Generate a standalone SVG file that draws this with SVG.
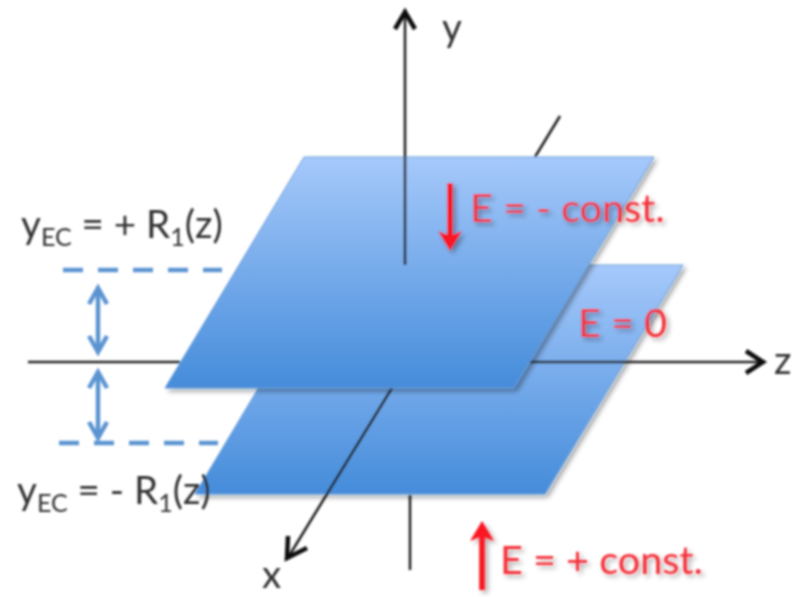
<svg xmlns="http://www.w3.org/2000/svg" width="794" height="597" viewBox="0 0 794 597">
<style>
.ax{fill:none;stroke:#222;stroke-width:2.6}
.head{fill:none;stroke:#111;stroke-width:4.5}
.blue{fill:none;stroke:#5b94d2;stroke-width:4.5}
.red{fill:none;stroke:#fa1320;stroke-width:5.5}
.redh{fill:#fa1320;stroke:none}
.t{font-family:Lato,"Open Sans",sans-serif;font-size:38.6px;fill:#333}
.r{font-family:Lato,"Open Sans",sans-serif;font-size:39.6px;fill:#f5303a}
.s{font-size:25px}
.plate{stroke:#6b9fd8;stroke-width:1}
</style>
<defs>
<linearGradient id="g" x1="0" y1="0" x2="0" y2="1"><stop offset="0" stop-color="#a6c9fb"/><stop offset="1" stop-color="#458cda"/></linearGradient>
<filter id="b" x="-5%" y="-5%" width="110%" height="110%"><feGaussianBlur stdDeviation="0.9"/></filter>
<filter id="sh" x="-10%" y="-10%" width="125%" height="125%"><feGaussianBlur in="SourceAlpha" stdDeviation="2.5" result="a"/><feOffset in="a" dx="3" dy="3" result="o"/><feComponentTransfer in="o" result="c"><feFuncA type="linear" slope="0.35"/></feComponentTransfer><feMerge><feMergeNode in="c"/><feMergeNode in="SourceGraphic"/></feMerge></filter>
</defs>
<rect width="794" height="597" fill="#fff"/>
<g filter="url(#b)">
<g id="connectors-back">
<path class="ax" d="M535 157L560 116"/>
<path class="ax" d="M410 495V570"/>
<path class="ax" d="M28 362H180"/>
</g>
<g id="plate-lower"><path class="plate" fill="url(#g)" d="M332 265H683L545 494H195Z" filter="url(#sh)"/></g>
<g id="connectors-mid">
<path class="ax" d="M530 362H760"/>
<path class="head" d="M746 351L763 362L746 373"/>
<path class="ax" d="M392 388L289 556"/>
<path class="head" d="M288 536L287 558L307 548"/>
</g>
<g id="plate-upper"><path class="plate" fill="url(#g)" d="M304 157H654L514 388H165Z" filter="url(#sh)"/></g>
<g id="axis-y">
<path class="ax" d="M405 265V12"/>
<path class="head" d="M395 29L405 12L415 29"/>
</g>
<g id="guides">
<path class="blue" stroke-dasharray="20 15" d="M63 270H222"/>
<path class="blue" stroke-dasharray="20 15" d="M59 443H218"/>
<path class="blue" d="M98 288V352M89 304L98 288L107 304M89 336L98 352L107 336"/>
<path class="blue" d="M98 372V438M89 388L98 372L107 388M89 422L98 438L107 422"/>
</g>
<g id="field-arrows" filter="url(#sh)">
<path class="red" d="M450 183V240"/><path class="redh" d="M438 231L450 251L462 231L450 236Z"/>
<path class="red" d="M482 590V532"/><path class="redh" d="M470 541L482 521L494 541L482 536Z"/>
</g>
<g id="labels">
<text class="t" x="442" y="41">y</text>
<text class="t" x="774" y="374">z</text>
<text class="t" x="262" y="588">x</text>
<text class="t" x="21" y="238">y<tspan class="s" dy="8">EC</tspan><tspan dy="-8"> = + R</tspan><tspan class="s" dy="8">1</tspan><tspan dy="-8">(z)</tspan></text>
<text class="t" x="17" y="504">y<tspan class="s" dy="8">EC</tspan><tspan dy="-8"> = - R</tspan><tspan class="s" dy="8">1</tspan><tspan dy="-8">(z)</tspan></text>
<g filter="url(#sh)">
<text class="r" x="470" y="222">E = - const.</text>
<text class="r" x="578" y="337">E = 0</text>
<text class="r" x="500" y="574">E = + const.</text>
</g>
</g>
</g>
</svg>
